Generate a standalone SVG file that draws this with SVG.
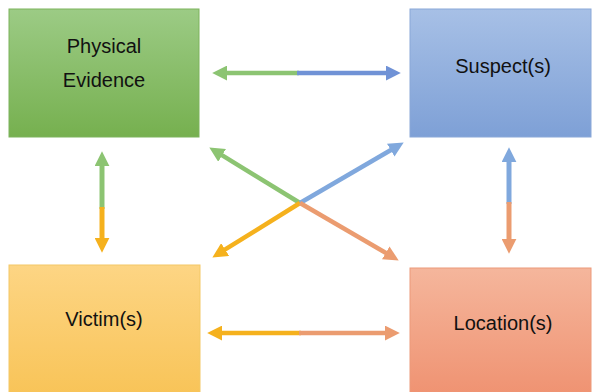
<svg xmlns="http://www.w3.org/2000/svg" width="594" height="392" viewBox="0 0 594 392">
  <defs>
    <linearGradient id="gGreen" x1="0" y1="0" x2="0" y2="1">
      <stop offset="0" stop-color="#9ccb85"/>
      <stop offset="1" stop-color="#76b04f"/>
    </linearGradient>
    <linearGradient id="gBlue" x1="0" y1="0" x2="0" y2="1">
      <stop offset="0" stop-color="#a7c0e6"/>
      <stop offset="1" stop-color="#7ea0d6"/>
    </linearGradient>
    <linearGradient id="gOrange" x1="0" y1="0" x2="0" y2="1">
      <stop offset="0" stop-color="#fdd584"/>
      <stop offset="1" stop-color="#f8c356"/>
    </linearGradient>
    <linearGradient id="gSalmon" x1="0" y1="0" x2="0" y2="1">
      <stop offset="0" stop-color="#f5b69c"/>
      <stop offset="1" stop-color="#ef9170"/>
    </linearGradient>
    <marker id="mGreen" viewBox="0 0 14 14" refX="3" refY="7" markerWidth="15" markerHeight="15" markerUnits="userSpaceOnUse" orient="auto"><path d="M0,0 L14,7 L0,14 z" fill="#8cc472"/></marker>
    <marker id="mBlue" viewBox="0 0 14 14" refX="3" refY="7" markerWidth="15" markerHeight="15" markerUnits="userSpaceOnUse" orient="auto"><path d="M0,0 L14,7 L0,14 z" fill="#7092d6"/></marker>
    <marker id="mBlue2" viewBox="0 0 14 14" refX="3" refY="7" markerWidth="15" markerHeight="15" markerUnits="userSpaceOnUse" orient="auto"><path d="M0,0 L14,7 L0,14 z" fill="#80a8dd"/></marker>
    <marker id="mOrange" viewBox="0 0 14 14" refX="3" refY="7" markerWidth="15" markerHeight="15" markerUnits="userSpaceOnUse" orient="auto"><path d="M0,0 L14,7 L0,14 z" fill="#f5b11d"/></marker>
    <marker id="mSalmon" viewBox="0 0 14 14" refX="3" refY="7" markerWidth="15" markerHeight="15" markerUnits="userSpaceOnUse" orient="auto"><path d="M0,0 L14,7 L0,14 z" fill="#eb9c70"/></marker>
  </defs>
  <style>
    .lbl { font-family: "Liberation Sans", Arial, sans-serif; font-size: 20px; fill: #111111; text-anchor: middle; }
    .ln { stroke-width: 4.5; fill: none; stroke-linecap: butt; }
    .v { stroke-width: 5; }
    .green { stroke: #8cc472; marker-end: url(#mGreen); }
    .blue { stroke: #7092d6; marker-end: url(#mBlue); }
    .blue2 { stroke: #80a8dd; marker-end: url(#mBlue2); }
    .orange { stroke: #f5b11d; marker-end: url(#mOrange); }
    .salmon { stroke: #eb9c70; marker-end: url(#mSalmon); }
  </style>
  <rect width="594" height="392" fill="#ffffff"/>

  <g id="physical-evidence">
    <rect x="9" y="9" width="190" height="128" fill="url(#gGreen)" stroke="#7db35c" stroke-width="1"/>
    <text class="lbl" x="104" y="53">Physical</text>
    <text class="lbl" x="104" y="87">Evidence</text>
  </g>
  <g id="suspects">
    <rect x="410" y="9" width="181" height="128" fill="url(#gBlue)" stroke="#8aa8d8" stroke-width="1"/>
    <text class="lbl" x="503" y="73">Suspect(s)</text>
  </g>
  <g id="victims">
    <rect x="9" y="265" width="191" height="135" fill="url(#gOrange)" stroke="#f3c867" stroke-width="1"/>
    <text class="lbl" x="104" y="326">Victim(s)</text>
  </g>
  <g id="locations">
    <rect x="410" y="268" width="181" height="132" fill="url(#gSalmon)" stroke="#ec9a7a" stroke-width="1"/>
    <text class="lbl" x="503" y="330">Location(s)</text>
  </g>

  <g id="connectors">
    <line class="ln green" x1="299" y1="73" x2="224" y2="73"/>
    <line class="ln blue" x1="297" y1="73" x2="389" y2="73"/>
    <line class="ln orange" x1="301" y1="333" x2="219" y2="333"/>
    <line class="ln salmon" x1="299" y1="333" x2="388" y2="333"/>
    <line class="ln v green" x1="102" y1="209" x2="102" y2="163"/>
    <line class="ln v orange" x1="102" y1="207" x2="102" y2="241"/>
    <line class="ln v blue2" x1="509" y1="204" x2="509" y2="159"/>
    <line class="ln v salmon" x1="509" y1="202" x2="509" y2="242"/>
    <line class="ln green" x1="300" y1="203" x2="219.4" y2="153.7"/>
    <line class="ln blue2" x1="300" y1="203" x2="393.5" y2="148.5"/>
    <line class="ln orange" x1="300" y1="203" x2="222.4" y2="251.2"/>
    <line class="ln salmon" x1="300" y1="203" x2="388.5" y2="254.5"/>
  </g>
</svg>
